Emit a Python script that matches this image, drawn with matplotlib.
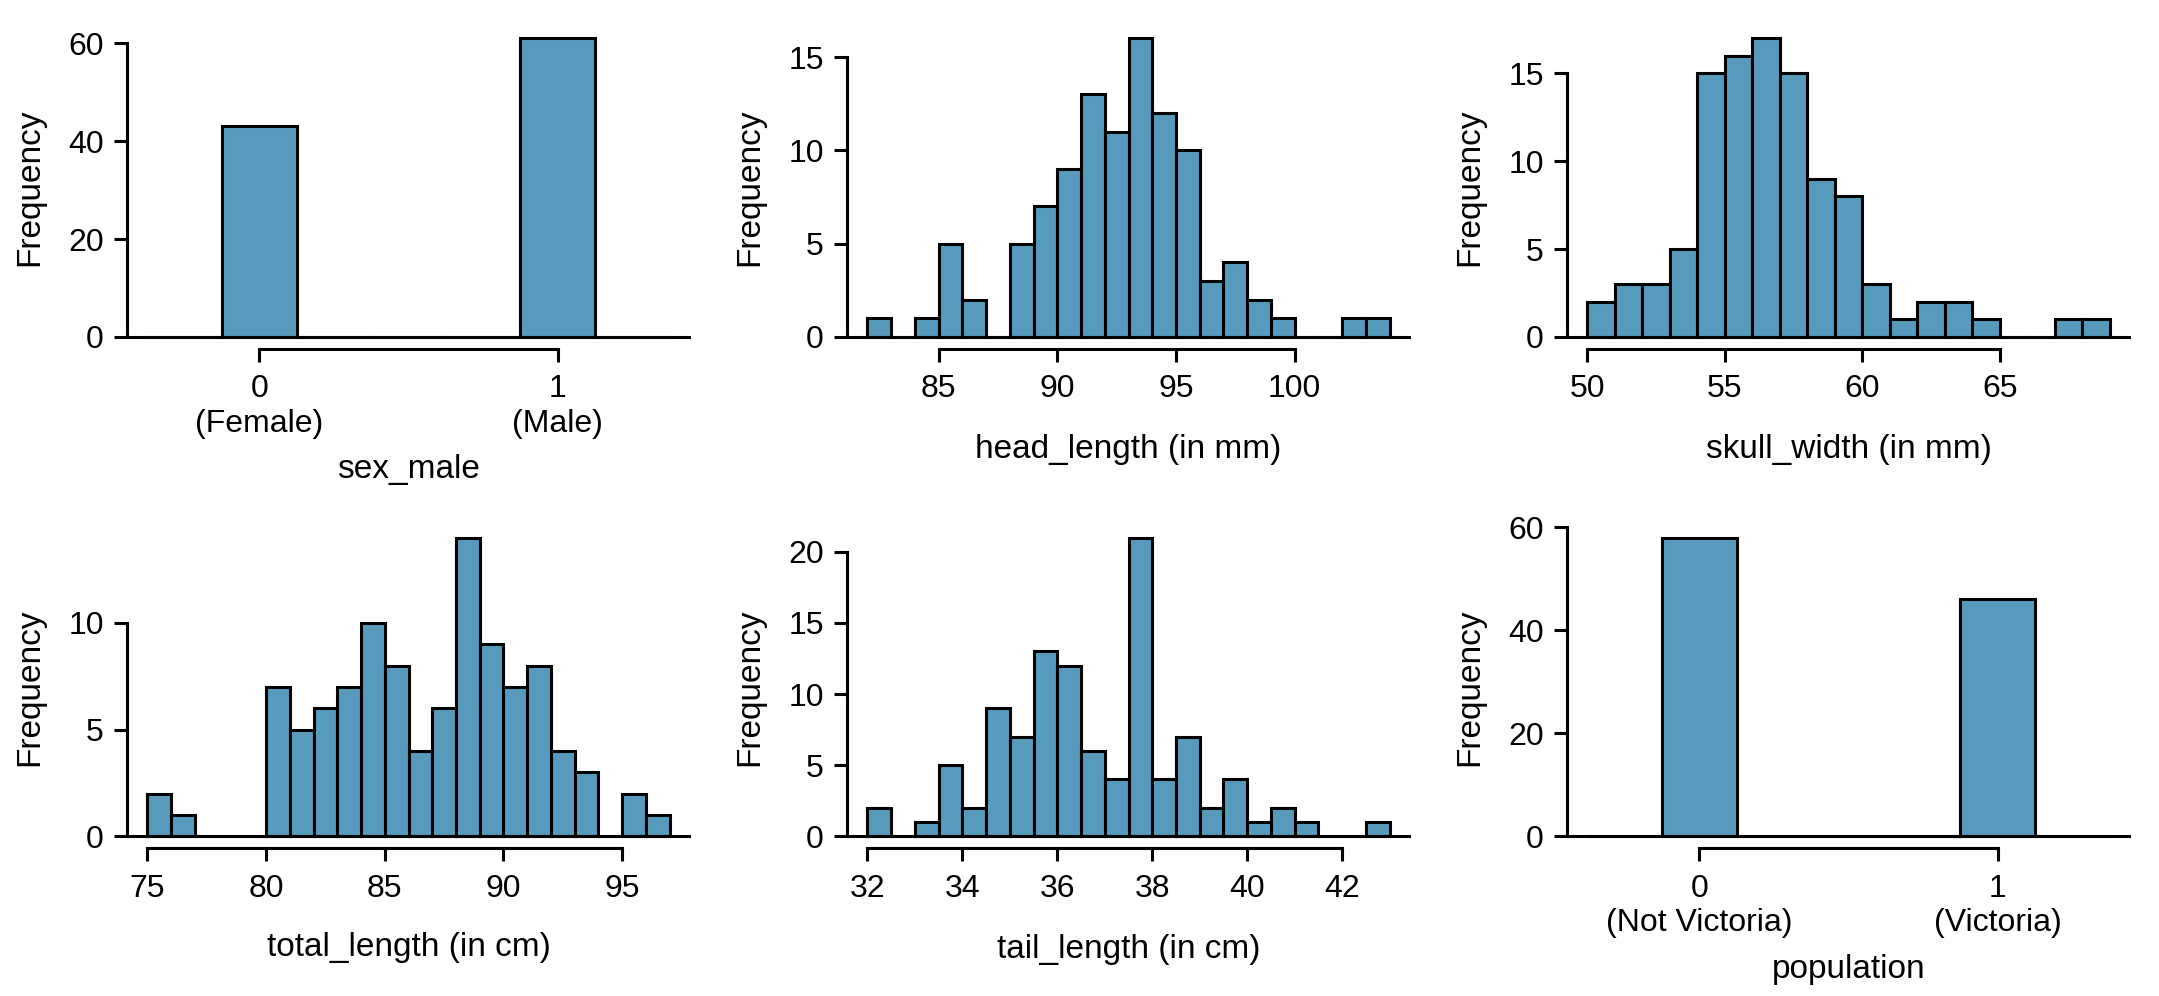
import numpy as np
import matplotlib
matplotlib.use('Agg')
import matplotlib.pyplot as plt

plt.rcParams['font.family'] = ['Liberation Sans', 'DejaVu Sans']

BAR_COLOR = '#569BBD'
LW = 2.2
FS_TICK = 23
FS_LABEL = 24

# ---- data ----
sex_start, sex_width = -0.375, 0.25
sex_counts = [0, 43, 0, 0, 0, 61, 0]
sex_xticks = [0, 1]
sex_xticklabels = ['0\n(Female)', '1\n(Male)']
sex_yticks = [0, 20, 40, 60]

head_start, head_width = 82, 1
head_counts = [1, 0, 1, 5, 2, 0, 5, 7, 9, 13, 11, 16, 12, 10, 3, 4, 2, 1, 0, 0, 1, 1]
head_xticks = [85, 90, 95, 100]
head_yticks = [0, 5, 10, 15]

skull_start, skull_width = 50, 1
skull_counts = [2, 3, 3, 5, 15, 16, 17, 15, 9, 8, 3, 1, 2, 2, 1, 0, 0, 1, 1]
skull_xticks = [50, 55, 60, 65]
skull_yticks = [0, 5, 10, 15]

total_start, total_width = 75, 1
total_counts = [2, 1, 0, 0, 0, 7, 5, 6, 7, 10, 8, 4, 6, 14, 9, 7, 8, 4, 3, 0, 2, 1]
total_xticks = [75, 80, 85, 90, 95]
total_yticks = [0, 5, 10]

tail_start, tail_width = 32, 0.5
tail_counts = [2, 0, 1, 5, 2, 9, 7, 13, 12, 6, 4, 21, 4, 7, 2, 4, 1, 2, 1, 0, 0, 1]
tail_xticks = [32, 34, 36, 38, 40, 42]
tail_yticks = [0, 5, 10, 15, 20]

pop_start, pop_width = -0.375, 0.25
pop_counts = [0, 58, 0, 0, 0, 46, 0]
pop_xticks = [0, 1]
pop_xticklabels = ['0\n(Not Victoria)', '1\n(Victoria)']
pop_yticks = [0, 20, 40, 60]

W, H = 2159, 996
fig = plt.figure(figsize=(W / 100, H / 100), dpi=100)

col_left = [126.5, 846.5, 1566.5]
col_w = 564
row_top = [26.4, 525.7]
row_h = 322.5


def make_ax(r, c):
    l = col_left[c] / W
    b = 1 - (row_top[r] + row_h) / H
    return fig.add_axes([l, b, col_w / W, row_h / H])


def draw(ax, start, width, counts, xticks, xticklabels, yticks, xlabel, xlabel_y):
    counts = np.asarray(counts, dtype=float)
    edges = start + width * np.arange(len(counts) + 1)
    ax.bar(edges[:-1], counts, width=width, align='edge', color=BAR_COLOR,
           edgecolor='black', linewidth=LW, zorder=2)
    x0, x1 = edges[0], edges[-1]
    px = 0.04 * (x1 - x0)
    ax.set_xlim(x0 - px, x1 + px)
    ymax = counts.max()
    ax.set_ylim(-0.04 * ymax, 1.04 * ymax)
    ax.axhline(0, color='black', lw=LW, zorder=3, solid_capstyle='butt')
    for s in ['top', 'right']:
        ax.spines[s].set_visible(False)
    ax.spines['left'].set_linewidth(LW)
    ax.spines['bottom'].set_linewidth(LW)
    ax.spines['left'].set_bounds(yticks[0], yticks[-1])
    ax.spines['bottom'].set_bounds(xticks[0], xticks[-1])
    ax.set_xticks(xticks)
    if xticklabels is not None:
        ax.set_xticklabels(xticklabels)
    else:
        ax.set_xticklabels([str(t) for t in xticks])
    ax.set_yticks(yticks)
    ax.set_yticklabels([str(t) for t in yticks])
    ax.tick_params(axis='both', direction='out', length=9.4, width=LW,
                   labelsize=FS_TICK, color='black')
    ax.tick_params(axis='x', pad=9)
    ax.tick_params(axis='y', pad=7)
    ax.set_ylabel('Frequency', fontsize=FS_LABEL, va='center', ha='center')
    ax.yaxis.set_label_coords(-0.171, 0.5)
    ax.set_xlabel(xlabel, fontsize=FS_LABEL, va='center', ha='center')
    ax.xaxis.set_label_coords(0.5, xlabel_y)
    ax.set_facecolor('none')


ax = make_ax(0, 0)
draw(ax, sex_start, sex_width, sex_counts, sex_xticks, sex_xticklabels, sex_yticks,
     'sex_male', -0.375)
ax = make_ax(0, 1)
draw(ax, head_start, head_width, head_counts, head_xticks, None, head_yticks,
     'head_length (in mm)', -0.311)
ax = make_ax(0, 2)
draw(ax, skull_start, skull_width, skull_counts, skull_xticks, None, skull_yticks,
     'skull_width (in mm)', -0.311)
ax = make_ax(1, 0)
draw(ax, total_start, total_width, total_counts, total_xticks, None, total_yticks,
     'total_length (in cm)', -0.309)
ax = make_ax(1, 1)
draw(ax, tail_start, tail_width, tail_counts, tail_xticks, None, tail_yticks,
     'tail_length (in cm)', -0.313)
ax = make_ax(1, 2)
draw(ax, pop_start, pop_width, pop_counts, pop_xticks, pop_xticklabels, pop_yticks,
     'population', -0.375)

fig.savefig('out.png', dpi=100, facecolor='white')
